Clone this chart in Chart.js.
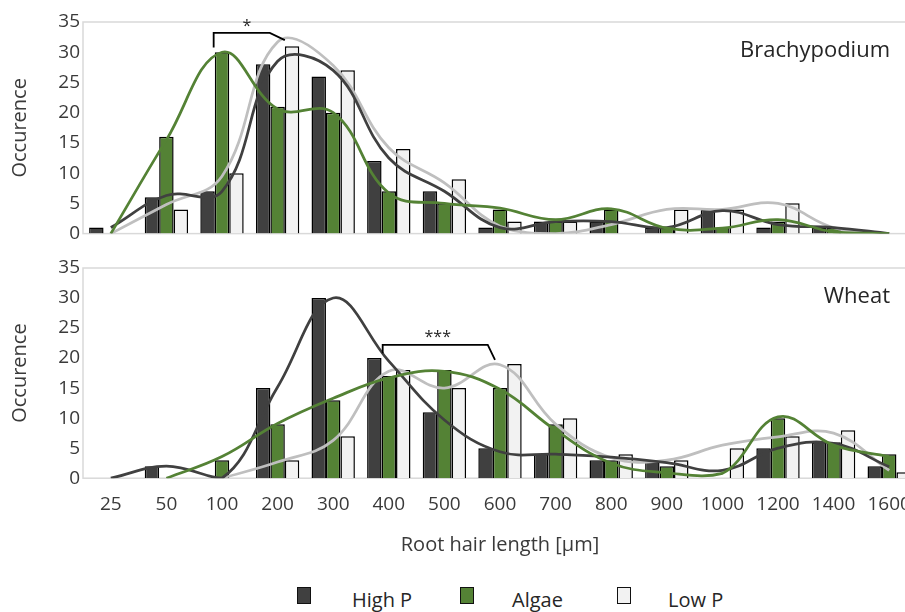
<!DOCTYPE html>
<html>
<head>
<meta charset="utf-8">
<script src="https://cdn.jsdelivr.net/npm/chart.js@4.4.1/dist/chart.umd.min.js"></script>
<style>
  body { margin: 0; width: 905px; height: 612px; overflow: hidden; background: #fff; position: relative; font-family: "Open Sans", sans-serif; }
  #topBox { position: absolute; left: 0; top: 0; }
  #bottomBox { position: absolute; left: 0; top: 245px; }
  .lg-box { position: absolute; top: 587px; width: 14px; height: 17px; box-sizing: border-box; border: 1.5px solid #111; }
  .lg-text { position: absolute; top: 590px; font-size: 20px; line-height: 20px; color: #262626; white-space: nowrap; }
</style>
</head>
<body>
<div id="topBox"><canvas id="topChart" width="929" height="248"></canvas></div>
<div id="bottomBox"><canvas id="bottomChart" width="929" height="316"></canvas></div>

<div class="lg-box" style="left:297px;background:#404040"></div><div class="lg-text" style="left:352px">High P</div>
<div class="lg-box" style="left:460px;background:#548235"></div><div class="lg-text" style="left:512px">Algae</div>
<div class="lg-box" style="left:617px;background:#f2f2f2"></div><div class="lg-text" style="left:668px">Low P</div>

<script>
// x categories (root hair length classes)
const categories = ['25', '50', '100', '200', '300', '400', '500', '600', '700', '800', '900', '1000', '1200', '1400', '1600']

// Brachypodium - bar counts
const highP_B = [1, 6, 7, 28, 26, 12, 7, 1, 2, 2, 1, 4, 1, 1, 0]
const algae_B = [0, 16, 30, 21, 20, 7, 5, 4, 2, 4, 1, 1, 2, 1, 0]
const lowP_B  = [0, 4, 10, 31, 27, 14, 9, 2, 2, 0, 4, 4, 5, 0, 0]

// Brachypodium - smoothed curves, read at each class
const curveHighP_B = [1, 6.3, 7, 28.5, 27, 12.5, 7, 1, 2, 2, 1, 3.8, 1.5, 1, 0]
const curveAlgae_B = [0, 15.5, 30, 20.6, 20, 6.7, 5, 4.2, 2.3, 4.1, 0.9, 0.9, 2.3, 0.3, 0]
const curveLowP_B  = [0, 4.8, 9.5, 31.7, 27.8, 14.2, 8.4, 1.2, 0, 1.5, 4, 4, 5, 1, 0]

// Wheat - bar counts
const highP_W = [0, 2, 0, 15, 30, 20, 11, 5, 4, 3, 3, 0, 5, 6, 2]
const algae_W = [0, 0, 3, 9, 13, 17, 18, 15, 9, 3, 2, 0, 10, 6, 4]
const lowP_W  = [0, 0, 0, 3, 7, 18, 15, 19, 10, 4, 3, 5, 7, 8, 1]

// Wheat - smoothed curves
const curveHighP_W = [0, 2, 0, 15.2, 30, 19.5, 9.7, 4.4, 4, 3.5, 2.6, 1.3, 5, 5.8, 1.9]
const curveAlgae_W = [null, 0, 3.6, 9.1, 13.3, 16.7, 17.8, 14.8, 8, 2.5, 0.9, 0.8, 10.2, 5.5, 3.6]
const curveLowP_W  = [null, null, 0, 2.7, 6.3, 17.8, 15, 18.9, 9, 3.4, 3, 5.5, 6.9, 7.5, 1.3]

const yTicks = [0, 5, 10, 15, 20, 25, 30, 35]

// significance brackets: [category index, value] points, label position
const bracket_B = [[1.85, 30.8], [1.85, 33.2], [2.86, 33.2], [3.13, 32]]
const star_B = { at: [2.45, 34.3], text: '*' }
const bracket_W = [[4.89, 20.8], [4.89, 22.2], [6.78, 22.2], [6.91, 19.7]]
const star_W = { at: [5.88, 23.4], text: '***' }

const colors = { high: '#404040', algae: '#548235', low: '#f2f2f2', lowLine: '#bfbfbf' }

Chart.defaults.font.family = 'Open Sans'
Chart.defaults.color = '#3a3a3a'

const panelPlugin = {
  id: 'panel',
  beforeDatasetsDraw(chart) {
    const { ctx, chartArea: a } = chart
    ctx.save()
    ctx.strokeStyle = '#d9d9d9'
    ctx.lineWidth = 1.5
    ctx.strokeRect(a.left, a.top, a.right - a.left, a.bottom - a.top)
    ctx.restore()
  },
  afterDatasetsDraw(chart, args, opts) {
    const { ctx, chartArea: a, scales: { x, y } } = chart
    ctx.save()
    // bracket
    ctx.strokeStyle = '#000'
    ctx.lineWidth = 1.8
    ctx.beginPath()
    opts.bracket.forEach((p, i) => {
      const px = x.getPixelForValue(p[0]), py = y.getPixelForValue(p[1])
      if (i === 0) ctx.moveTo(px, py)
      else ctx.lineTo(px, py)
    })
    ctx.stroke()
    ctx.fillStyle = '#262626'
    ctx.font = '16px "Open Sans"'
    ctx.textAlign = 'center'
    ctx.textBaseline = 'middle'
    ctx.fillText(opts.star.text, x.getPixelForValue(opts.star.at[0]), y.getPixelForValue(opts.star.at[1]))
    // panel name
    ctx.font = '22px "Open Sans"'
    ctx.textAlign = 'right'
    ctx.fillText(opts.name, a.right - 27, a.top + 29)
    ctx.restore()
  }
}

const makeDatasets = (hi, al, lo, cHi, cAl, cLo) => [
  { type: 'line', label: 'Low P curve', data: cLo, borderColor: colors.lowLine, borderWidth: 2.75, pointRadius: 0, tension: 0.4, order: 3 },
  { type: 'line', label: 'High P curve', data: cHi, borderColor: colors.high, borderWidth: 2.75, pointRadius: 0, tension: 0.4, order: 2 },
  { type: 'line', label: 'Algae curve', data: cAl, borderColor: colors.algae, borderWidth: 2.75, pointRadius: 0, tension: 0.4, order: 1 },
  { label: 'High P', data: hi, backgroundColor: colors.high, borderColor: '#000', borderWidth: 1.5, order: 10 },
  { label: 'Algae', data: al, backgroundColor: colors.algae, borderColor: '#000', borderWidth: 1.5, order: 10 },
  { label: 'Low P', data: lo, backgroundColor: colors.low, borderColor: '#000', borderWidth: 1.5, order: 10 },
]

const makeConfig = (datasets, name, bracket, star, showX, pad) => ({
  type: 'bar',
  data: { labels: categories, datasets: datasets },
  options: {
    responsive: false,
    animation: false,
    layout: { padding: pad },
    datasets: { bar: { categoryPercentage: 0.78, barPercentage: 1.0 } },
    plugins: {
      legend: { display: false },
      tooltip: { enabled: false },
      panel: { name: name, bracket: bracket, star: star }
    },
    scales: {
      x: {
        grid: { display: false, drawTicks: false },
        border: { display: false },
        ticks: { display: showX, font: { size: 19 }, padding: 15, maxRotation: 0, autoSkip: false },
        title: { display: showX, text: 'Root hair length [µm]', font: { size: 20 }, padding: { top: 2, bottom: 4 } }
      },
      y: {
        min: 0, max: 35,
        afterBuildTicks: (s) => { s.ticks = yTicks.map(v => ({ value: v })) },
        afterFit: (s) => { s.width = 83 },
        grid: { display: false, drawTicks: false },
        border: { display: false },
        ticks: { font: { size: 19 }, padding: 3 },
        title: { display: true, text: 'Occurence', font: { size: 20 }, padding: { top: 8, bottom: 0 } }
      }
    }
  },
  plugins: [panelPlugin]
})

new Chart(document.getElementById('topChart'),
  makeConfig(makeDatasets(highP_B, algae_B, lowP_B, curveHighP_B, curveAlgae_B, curveLowP_B),
    'Brachypodium', bracket_B, star_B, false, { top: 22, right: 12, bottom: 10, left: 0 }))

new Chart(document.getElementById('bottomChart'),
  makeConfig(makeDatasets(highP_W, algae_W, lowP_W, curveHighP_W, curveAlgae_W, curveLowP_W),
    'Wheat', bracket_W, star_W, true, { top: 23, right: 12, bottom: 0, left: 0 }))
</script>
</body>
</html>
